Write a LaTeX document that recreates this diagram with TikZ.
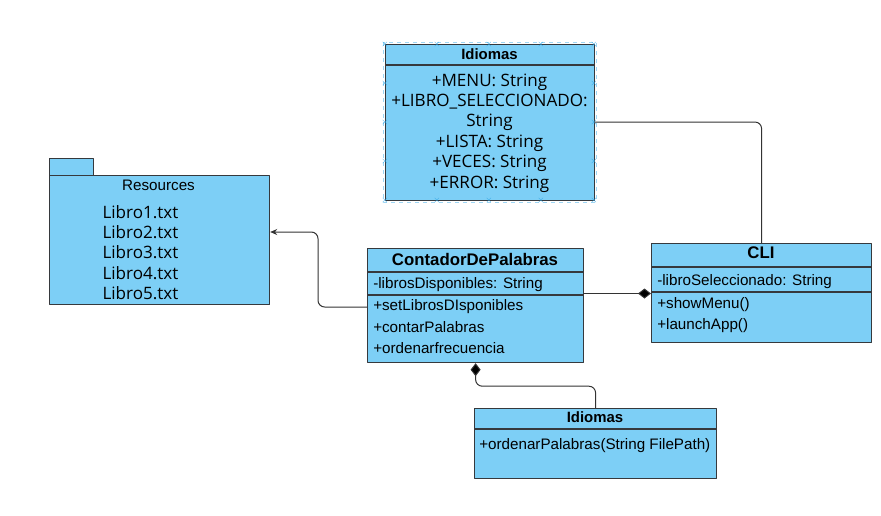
\documentclass[tikz,border=0pt]{standalone}
\usepackage{fontspec}
\setmainfont{Liberation Sans}
\newfontfamily\opensans{Open Sans}
\usetikzlibrary{arrows.meta,calc}

\definecolor{boxblue}{HTML}{7DCFF6}
\definecolor{edgegray}{HTML}{36393D}
\definecolor{selblue}{HTML}{29A3E6}
\def\u{0.75pt}

\tikzset{
    comp/.tip={Diamond[fill=black, length=13*\u, width=10*\u]},
}

\begin{document}
\begin{tikzpicture}[
    x=0.75pt, y=-0.75pt,
    line join=round,
    umlbox/.style={draw=edgegray, fill=boxblue, line width=0.9pt,
        inner sep=0pt, anchor=north west},
    sepline/.style={draw=edgegray, line width=0.9pt},
    title/.style={font=\bfseries\fontsize{11.2}{13}\selectfont},
    bigtitle/.style={font=\bfseries\fontsize{12.6}{14}\selectfont},
    member/.style={anchor=west, inner sep=0pt, font=\fontsize{11.4}{13}\selectfont},
    bigmember/.style={inner sep=0pt, font=\opensans\fontsize{12.8}{15}\selectfont},
    link/.style={draw=black!80, line width=0.75pt, rounded corners=5pt},
]

\useasboundingbox (0,0) rectangle (881,515);

% ======================================
% Idiomas (arriba)
% ======================================
\node[umlbox, minimum width=209*\u, minimum height=156*\u] (idi) at (385,44) {};
\draw[sepline] ([yshift=-21*\u]idi.north west) -- ([yshift=-21*\u]idi.north east);
\node[title] (idiT) at (489.5,54) {Idiomas};
\node[bigmember] (iMenu)  at (489.5,82)  {+MENU: String};
\node[bigmember] (iLibro) at (489.5,102) {+LIBRO\_SELECCIONADO:};
\node[bigmember] (iStr)   at (489.5,122) {String};
\node[bigmember] (iLista) at (489.5,143) {+LISTA: String};
\node[bigmember] (iVeces) at (489.5,163) {+VECES: String};
\node[bigmember] (iError) at (489.5,184) {+ERROR: String};

% marco de seleccion
\draw[selblue!45, dashed, line width=0.5pt] (383,42) rectangle (596,202);
\foreach \xx in {385,437,489,541,594}
  \foreach \yy in {44,200}
    \node[selblue, inner sep=0pt, font=\fontsize{6}{6}\selectfont] at (\xx,\yy) {$\times$};
\foreach \yy in {83,122,161}
  \foreach \xx in {385,594}
    \node[selblue, inner sep=0pt, font=\fontsize{6}{6}\selectfont] at (\xx,\yy) {$\times$};

% ======================================
% Resources (paquete)
% ======================================
\node[umlbox, minimum width=44*\u, minimum height=17*\u] (resTab) at (49,158) {};
\node[umlbox, minimum width=220*\u, minimum height=129*\u] (res) at (49,175) {};
\node[inner sep=0pt, font=\fontsize{11.4}{13}\selectfont] (resT) at (158.5,185) {Resources};
\foreach \i/\yy in {1/212,2/232,3/252,4/273,5/293}
  \node[bigmember] (lib\i) at (140.5,\yy) {Libro\i.txt};

% ======================================
% ContadorDePalabras
% ======================================
\node[umlbox, minimum width=216*\u, minimum height=114*\u] (cont) at (367,248) {};
\draw[sepline] ([yshift=-24*\u]cont.north west) -- ([yshift=-24*\u]cont.north east);
\draw[sepline] ([yshift=-47*\u]cont.north west) coordinate (contSep)
    -- ([yshift=-47*\u]cont.north east);
\node[bigtitle] (contT) at (475,259) {ContadorDePalabras};
\node[member] (cAttr) at (373,285) {-librosDisponibles: String};
\node[member] (cSet)  at (373,307) {+setLibrosDIsponibles};
\node[member] (cCont) at (373,327) {+contarPalabras};
\node[member] (cOrd)  at (373,348) {+ordenarfrecuencia};

% ======================================
% CLI
% ======================================
\node[umlbox, minimum width=220*\u, minimum height=99*\u] (cli) at (651,243) {};
\draw[sepline] ([yshift=-24*\u]cli.north west) -- ([yshift=-24*\u]cli.north east);
\draw[sepline] ([yshift=-49*\u]cli.north west) -- ([yshift=-49*\u]cli.north east);
\coordinate (cliIn) at ([yshift=-50.5*\u]cli.north west);
\node[bigtitle] (cliT) at (761,253) {CLI};
\node[member] (lAttr) at (657,282) {-libroSeleccionado: String};
\node[member] (lShow) at (657,305) {+showMenu()};
\node[member] (lLaun) at (657,326) {+launchApp()};

% ======================================
% Idiomas (abajo)
% ======================================
\node[umlbox, minimum width=242*\u, minimum height=70*\u] (idb) at (474,408) {};
\draw[sepline] ([yshift=-21*\u]idb.north west) -- ([yshift=-21*\u]idb.north east);
\node[title] (idbT) at (595,417) {Idiomas};
\node[member] (bOrd) at (479,446) {+ordenarPalabras(String FilePath)};

% ======================================
% Conectores
% ======================================
\draw[link] (idi.east |- iStr) -| (cli.north);
\draw[link, -{Stealth[length=7*\u, width=6*\u]}]
    (cont.west |- cSet) -| (318,232) -- (res.east |- lib2);
\draw[link, -comp] (cont.east |- cliIn) -- (cliIn);
\draw[link, comp-] (cont.south) -- ++(0,23) -| (idb.north);

\end{tikzpicture}
\end{document}
